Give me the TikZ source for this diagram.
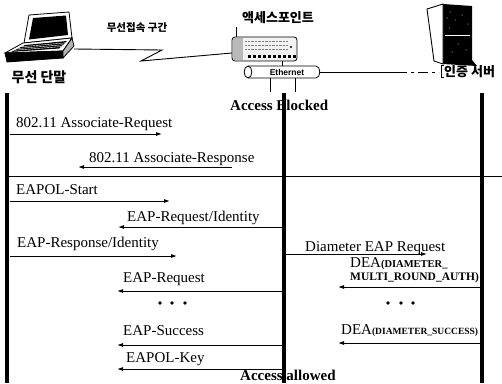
\documentclass[tikz,border=0pt]{standalone}
\usepackage{fontspec}
\setmainfont{Liberation Serif}
\newfontfamily\krfont{Noto Sans CJK KR}
\newfontfamily\arialfont{Liberation Sans}
\usetikzlibrary{arrows.meta,calc}

\begin{document}
\begin{tikzpicture}[x=1pt,y=-1pt,
  msg/.style={font=\fontsize{15}{15}\selectfont, anchor=base west, inner sep=0pt},
  smallcap/.style={font=\bfseries\fontsize{11.5}{11.5}\selectfont, anchor=base west, inner sep=0pt},
  state/.style={font=\bfseries\fontsize{15}{15}\selectfont, anchor=base west, inner sep=0pt},
  krlabel/.style={font=\krfont\bfseries\fontsize{13}{13}\selectfont, inner sep=0pt},
  arr/.style={line width=0.9pt, -{Latex[length=6pt,width=4pt]}},
  thin/.style={line width=0.9pt},
  lifeline/.style={line width=4pt},
  dotmark/.style={fill=black, draw=none}]

\useasboundingbox (0,0) rectangle (502,383);

% ---------- wireless terminal (laptop) ----------
\draw[fill=white, line width=0.8pt] (29,15) -- (69,12) -- (72,38) -- (24,43) -- cycle;
\fill (33,18) -- (66,15.5) -- (68,35) -- (29,39.5) -- cycle;
\draw[fill=white, line width=0.8pt] (5,53) -- (23,43) -- (72,38) -- (63,51) -- cycle;
\fill (11,52) -- (25,45) -- (67,41) -- (59,48.5) -- cycle;
\foreach \t in {0.25,0.5,0.75}
  \draw[white, line width=0.4pt] ($(11,52)!\t!(25,45)$) -- ($(59,48.5)!\t!(67,41)$);
\draw[fill=black, line width=0.8pt] (5,53) -- (63,51) -- (63,58) -- (7,62) -- cycle;
\draw[fill=gray!60, line width=0.8pt] (63,51) -- (72,38) -- (74,46) -- (63,58) -- cycle;
\node[krlabel, font=\krfont\bfseries\fontsize{14}{14}\selectfont] (term) at (39,77) {무선 단말};

% ---------- wireless link ----------
\node[krlabel, font=\krfont\bfseries\fontsize{10.5}{10.5}\selectfont] (air) at (137,28) {무선접속 구간};
\coordinate (linkA) at (74,49);
\coordinate (linkB) at (232,53);
\draw[thin] (linkA) -- (162,50) -- (141,61) -- (linkB);

% ---------- access point ----------
\node[krlabel] (aptitle) at (278,18) {액세스포인트};
\draw[thin] (236,27) -- (236,38);
\draw[fill=gray!10, line width=0.8pt, rounded corners=3pt] (232,37) rectangle (297,61);
\fill[gray!55] (233,38) rectangle (243,60);
\foreach \yy in {41,45,49} \draw[gray, densely dotted] (245,\yy) -- (288,\yy);
\foreach \xx in {248,253,...,293} \fill (\xx,55) rectangle ++(3,3);
\fill (291,47) circle (1.2);
\draw[thin] (282,61) -- (282,66);

% Ethernet segment
\draw[fill=white, line width=0.8pt] (248,66) -- (316,66) .. controls (321,66) and (321,78) .. (316,78)
  -- (248,78) .. controls (243,78) and (243,66) .. (248,66) -- cycle;
\draw[line width=0.8pt] (248,66) .. controls (253,66) and (253,78) .. (248,78);
\node[font=\arialfont\bfseries\fontsize{8.5}{8.5}\selectfont, inner sep=0pt] (eth) at (287,72) {Ethernet};
\draw[thin] (270,78) -- (270,92);
\draw[thin] (295,78) -- (295,92);
\coordinate (ethR) at (320,72);
\coordinate (ethM) at (397,72);
\coordinate (ethE) at (439,72);
\draw[thin] (ethR) -- (ethM);
\draw[thin, dash pattern=on 10pt off 4pt on 3pt off 4pt] (ethM) -- (ethE);

% ---------- authentication server ----------
\fill (443,4) -- (472,6) -- (472,60) -- (477,66) -- (443,64) -- cycle;
\draw[fill=white, line width=0.9pt] (427,9) -- (443,4) -- (443,64) -- (434,61) -- cycle;
\draw[white, line width=1pt] (445,35) -- (470,35);
\foreach \p in {(450,12),(455,20),(462,15),(449,28),(458,44),(452,52),(466,50),(447,18),(468,24)}
  \fill[white] \p circle (0.5);
\draw[thin] (444,65) -- (441,65) -- (441,77) -- (444,77);
\node[krlabel, anchor=west] (server) at (444,71.5) {인증 서버};

% ---------- state labels ----------
\node[state] (blocked) at (230,110) {Access Blocked};
\node[state] (allowed) at (240,380) {Access allowed};

% ---------- association ----------
\node[msg] (m1) at (16,127) {802.11 Associate-Request};
\coordinate (m1s) at (10,134); \coordinate (m1e) at (162,134);
\draw[arr] (m1s) -- (m1e);

\node[msg] (m2) at (89,162) {802.11 Associate-Response};
\coordinate (m2s) at (232,167); \coordinate (m2e) at (78,167);
\draw[arr] (m2s) -- (m2e);

\coordinate (sepL) at (9,176); \coordinate (sepR) at (502,176);
\draw[thin] (sepL) -- (sepR);

% ---------- EAP exchange ----------
\node[msg] (m3) at (16,194) {EAPOL-Start};
\coordinate (m3s) at (10,201); \coordinate (m3e) at (170,201);
\draw[arr] (m3s) -- (m3e);

\node[msg] (m4) at (127,221) {EAP-Request/Identity};
\coordinate (m4s) at (282,227); \coordinate (m4e) at (118,227);
\draw[arr] (m4s) -- (m4e);

\node[msg] (m5) at (17,247) {EAP-Response/Identity};
\coordinate (m5s) at (10,256); \coordinate (m5e) at (177,256);
\draw[arr] (m5s) -- (m5e);

\node[msg] (d1) at (305,251) {Diameter EAP Request};
\coordinate (d1s) at (286,254); \coordinate (d1e) at (427,254);
\draw[arr] (d1s) -- (d1e);

\node[msg] (d2) at (350,267) {DEA\textbf{\fontsize{10.5}{10.5}\selectfont(DIAMETER\_}};
\node[smallcap] (d2b) at (350,280) {MULTI\_ROUND\_AUTH)};
\coordinate (d2s) at (480,287); \coordinate (d2e) at (338,287);
\draw[arr] (d2s) -- (d2e);

\node[msg] (m6) at (123,282) {EAP-Request};
\coordinate (m6s) at (282,291); \coordinate (m6e) at (117,291);
\draw[arr] (m6s) -- (m6e);

\foreach \xx in {160,172,185} \fill[dotmark] (\xx,303) circle (1.8);
\foreach \xx in {388,401,413} \fill[dotmark] (\xx,303) circle (1.8);

\node[msg] (m7) at (123,335) {EAP-Success};
\coordinate (m7s) at (282,345); \coordinate (m7e) at (117,345);
\draw[arr] (m7s) -- (m7e);

\node[msg] (d3) at (341,334) {DEA\textbf{\fontsize{9.5}{9.5}\selectfont(DIAMETER\_SUCCESS)}};
\coordinate (d3s) at (480,343); \coordinate (d3e) at (338,343);
\draw[arr] (d3s) -- (d3e);

\node[msg] (m8) at (126,362) {EAPOL-Key};
\coordinate (m8s) at (282,369); \coordinate (m8e) at (117,369);
\draw[arr] (m8s) -- (m8e);

% ---------- lifelines ----------
\coordinate (staTop) at (7,93);   \coordinate (staBot) at (7,383);
\coordinate (apTop) at (284,93);  \coordinate (apBot) at (284,383);
\coordinate (srvTop) at (482,93); \coordinate (srvBot) at (482,383);
\draw[lifeline] (staTop) -- (staBot);
\draw[lifeline] (apTop) -- (apBot);
\draw[lifeline] (srvTop) -- (srvBot);
\end{tikzpicture}
\end{document}
